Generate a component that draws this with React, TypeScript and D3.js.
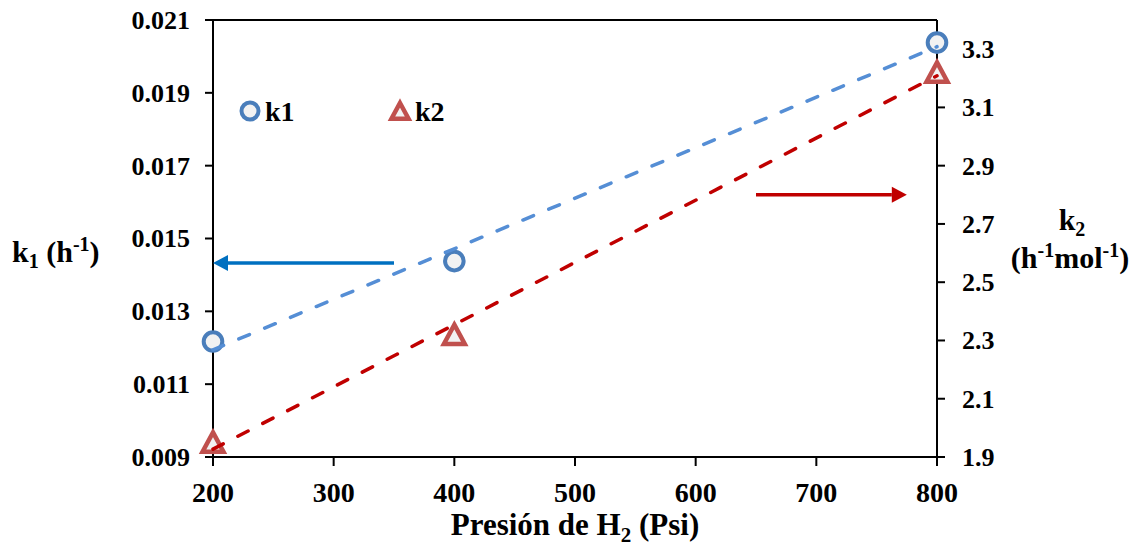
import React from "react";
import * as d3 from "d3";

const pressure = [200, 400, 800];
const k1Values = [0.01217, 0.01438, 0.02038];
const k2Values = [1.95, 2.32, 3.22];
const xTicks = [200, 300, 400, 500, 600, 700, 800];
const leftTicks = [0.009, 0.011, 0.013, 0.015, 0.017, 0.019, 0.021];
const rightTicks = [1.9, 2.1, 2.3, 2.5, 2.7, 2.9, 3.1, 3.3];
const blueArrow = { from: 350, to: 200, value: 0.01433 };
const redArrow = { from: 650, to: 775, value: 2.8 };

const W = 1141, H = 546;
const M = { left: 213, right: 937, top: 20, bottom: 457 };
const TS: React.CSSProperties = { fontFamily: "Liberation Serif", fontWeight: 700 };
const BLUE = "#4a7ebb", RED = "#c0504d";

function fit(xs: number[], ys: number[]) {
  const mx = d3.mean(xs)!, my = d3.mean(ys)!;
  let sxy = 0, sxx = 0;
  xs.forEach((x, i) => { sxy += (x - mx) * (ys[i] - my); sxx += (x - mx) ** 2; });
  const b = sxy / sxx;
  return (x: number) => my + b * (x - mx);
}

export default function App() {
  const x = d3.scaleLinear().domain([200, 800]).range([M.left, M.right]);
  const yL = d3.scaleLinear().domain([0.009, 0.021]).range([M.bottom, M.top]);
  const yR = d3.scaleLinear().domain([1.9, 3.4]).range([M.bottom, M.top]);
  const f1 = fit(pressure, k1Values);
  const f2 = fit(pressure, k2Values);
  const line1 = d3.line<number>().x(d => x(d)).y(d => yL(f1(d)))([200, 800])!;
  const line2 = d3.line<number>().x(d => x(d)).y(d => yR(f2(d)))([200, 800])!;

  const tri = (cx: number, cy: number, s = 11) =>
    `M${cx},${cy - s} L${cx + s * 0.95},${cy + s * 0.75} L${cx - s * 0.95},${cy + s * 0.75} Z`;

  const arrow = (x1: number, x2: number, y: number, color: string) => {
    const dir = Math.sign(x2 - x1);
    const hl = 15, hw = 8;
    return (
      <g>
        <line x1={x1} x2={x2 - dir * hl} y1={y} y2={y} stroke={color} strokeWidth={3.5} />
        <path d={`M${x2},${y} L${x2 - dir * hl},${y - hw} L${x2 - dir * hl},${y + hw} Z`} fill={color} />
      </g>
    );
  };

  return (
    <svg width={W} height={H} style={{ position: "absolute", left: 0, top: 0, background: "#fff" }}>
      {/* frame */}
      <line x1={M.left} x2={M.right} y1={M.top} y2={M.top} stroke="#000" strokeWidth={2} />
      <line x1={M.left} x2={M.left} y1={M.top} y2={M.bottom} stroke="#000" strokeWidth={2} />
      <line x1={M.right} x2={M.right} y1={M.top} y2={M.bottom} stroke="#000" strokeWidth={2} />
      <line x1={M.left} x2={M.right} y1={M.bottom} y2={M.bottom} stroke="#000" strokeWidth={2} />

      {leftTicks.map(t => (
        <g key={"l" + t}>
          <line x1={M.left - 8} x2={M.left} y1={yL(t)} y2={yL(t)} stroke="#000" strokeWidth={2} />
          <text x={190} y={yL(t)} dy="0.34em" textAnchor="end" fontSize={26} style={TS}>{t.toFixed(3)}</text>
        </g>
      ))}
      {rightTicks.map(t => (
        <g key={"r" + t}>
          <line x1={M.right} x2={M.right + 8} y1={yR(t)} y2={yR(t)} stroke="#000" strokeWidth={2} />
          <text x={962} y={yR(t)} dy="0.34em" textAnchor="start" fontSize={26} style={TS}>{t.toFixed(1)}</text>
        </g>
      ))}
      {xTicks.map(t => (
        <g key={"x" + t}>
          <line x1={x(t)} x2={x(t)} y1={M.bottom} y2={M.bottom + 9} stroke="#000" strokeWidth={2} />
          <text x={x(t)} y={502} textAnchor="middle" fontSize={28} style={TS}>{t}</text>
        </g>
      ))}

      {/* markers */}
      {pressure.map((p, i) => (
        <circle key={"c" + p} cx={x(p)} cy={yL(k1Values[i])} r={9.3} fill="#f2f2f2" stroke={BLUE} strokeWidth={4} />
      ))}
      {pressure.map((p, i) => (
        <path key={"t" + p} d={tri(x(p), yR(k2Values[i]) + 1)} fill="#f2f2f2" stroke={RED} strokeWidth={4.5} strokeLinejoin="miter" />
      ))}

      {/* trend lines */}
      <path d={line1} stroke="#558ed5" strokeWidth={3.5} strokeDasharray="11.5,16.5" strokeLinecap="round" fill="none" />
      <path d={line2} stroke="#c00000" strokeWidth={3.5} strokeDasharray="11.5,16.5" strokeLinecap="round" fill="none" />

      {/* arrows */}
      {arrow(x(blueArrow.from), x(blueArrow.to), yL(blueArrow.value), "#0070c0")}
      {arrow(x(redArrow.from), x(redArrow.to), yR(redArrow.value), "#c00000")}

      {/* legend */}
      <circle cx={250} cy={111} r={8.5} fill="#f2f2f2" stroke={BLUE} strokeWidth={4} />
      <text x={265} y={121} fontSize={28} style={TS}>k1</text>
      <path d={tri(400, 112, 9)} fill="#f2f2f2" stroke={RED} strokeWidth={4.5} />
      <text x={415} y={121} fontSize={28} style={TS}>k2</text>

      {/* axis titles */}
      <text x={12} y={262} fontSize={30} style={TS}>
        k<tspan fontSize={20} dy={6}>1</tspan><tspan dy={-6}> (h</tspan><tspan fontSize={20} dy={-11}>-1</tspan><tspan dy={11}>)</tspan>
      </text>
      <text x={1072} y={230} fontSize={30} textAnchor="middle" style={TS}>
        k<tspan fontSize={20} dy={6}>2</tspan>
      </text>
      <text x={1070} y={268} fontSize={30} textAnchor="middle" style={TS}>
        (h<tspan fontSize={20} dy={-11}>-1</tspan><tspan dy={11}>mol</tspan><tspan fontSize={20} dy={-11}>-1</tspan><tspan dy={11}>)</tspan>
      </text>
      <text x={575} y={535} fontSize={31} textAnchor="middle" style={TS}>
        Presión de H<tspan fontSize={21} dy={7}>2</tspan><tspan dy={-7}> (Psi)</tspan>
      </text>
    </svg>
  );
}
